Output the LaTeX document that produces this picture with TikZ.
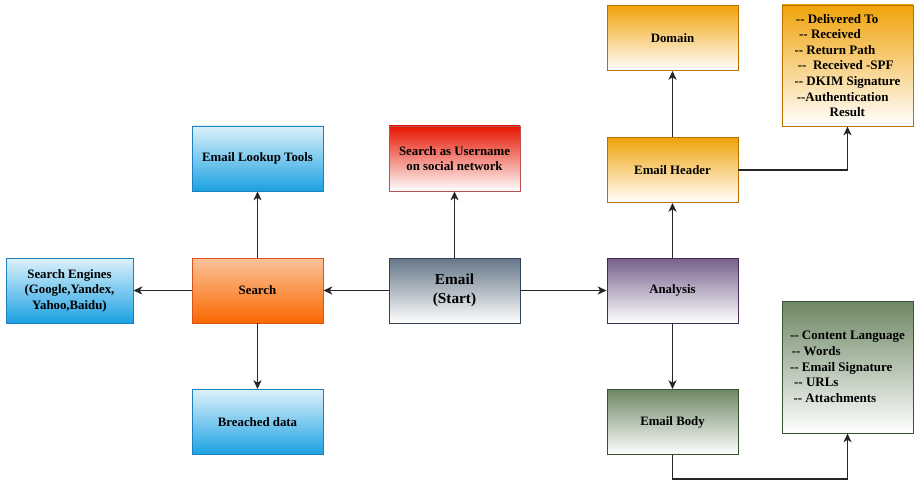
\documentclass[tikz,border=0pt]{standalone}
\usepackage{fontspec}
\setmainfont{Liberation Serif}
\usetikzlibrary{arrows.meta,positioning}
\definecolor{bluefill}{HTML}{1BA1E2}
\definecolor{bluedraw}{HTML}{1C7FC0}
\definecolor{orangefill}{HTML}{FA6800}
\definecolor{orangetop}{HTML}{FBC29A}
\definecolor{orangedraw}{HTML}{D9541A}
\definecolor{redfill}{HTML}{E51400}
\definecolor{reddraw}{HTML}{B85450}
\definecolor{slatefill}{HTML}{647687}
\definecolor{slatedraw}{HTML}{314354}
\definecolor{purplefill}{HTML}{76608A}
\definecolor{purpledraw}{HTML}{432D57}
\definecolor{amberfill}{HTML}{F0A30A}
\definecolor{amberdraw}{HTML}{BD7000}
\definecolor{greenfill}{HTML}{6D8764}
\definecolor{greendraw}{HTML}{3A5431}

\begin{document}
\begin{tikzpicture}[auto,
    main node/.style={rectangle,draw,line width=0.55pt,minimum width=2.62cm,minimum height=1.3cm,
                      align=center,inner sep=2pt,font=\bfseries\fontsize{7.3}{8.8}\selectfont},
    blue node/.style={main node,draw=bluedraw,top color=white!85!bluefill,bottom color=bluefill},
    search node/.style={main node,draw=orangedraw,top color=orangetop,bottom color=orangefill},
    red node/.style={main node,draw=reddraw,top color=redfill,bottom color=white},
    start node/.style={main node,draw=slatedraw,top color=slatefill,bottom color=white,
                       font=\bfseries\fontsize{8.7}{10.8}\selectfont},
    purple node/.style={main node,draw=purpledraw,top color=purplefill,bottom color=white},
    amber node/.style={main node,draw=amberdraw,top color=amberfill,bottom color=white},
    green node/.style={main node,draw=greendraw,top color=greenfill,bottom color=white},
    list node/.style={font=\bfseries\fontsize{7.4}{8.9}\selectfont,align=left},
    link/.style={-{Stealth[length=5pt,width=4.6pt,inset=1.4pt]},line width=0.7pt,draw=black!85}]

\useasboundingbox (0,0) rectangle (18.28,-9.82);

\node[start node] (Email) at (9.09,-5.81) {Email\\(Start)};
\node[search node] (Search) at (5.15,-5.81) {Search};
\node[blue node,minimum width=2.54cm] (Engines) at (1.39,-5.81) {Search Engines\\(Google,Yandex,\\Yahoo,Baidu)};
\node[blue node] (Lookup) at (5.15,-3.17) {Email Lookup Tools};
\node[blue node] (Breached) at (5.15,-8.44) {Breached data};
\node[red node] (Username) at (9.09,-3.17) {Search as Username\\on social network};
\node[purple node] (Analysis) at (13.45,-5.81) {Analysis};
\node[amber node] (Header) at (13.45,-3.40) {Email Header};
\node[amber node] (Domain) at (13.45,-0.76) {Domain};
\node[green node] (Body) at (13.45,-8.44) {Email Body};

\node[amber node,minimum height=2.42cm] (HeaderList) at (16.95,-1.31) {};
\node[list node] (HeaderText) at (HeaderList) {\hspace*{0.8pt}-{}- Delivered To\\
  \hspace*{2.6pt}-{}- Received\\
  -{}- Return Path\\
  \hspace*{1.9pt}-{}-\ \ Received -SPF\\
  -{}- DKIM Signature\\
  \hspace*{1.3pt}-{}-Authentication\\
  \hspace*{20pt}Result};

\node[green node,minimum height=2.64cm] (BodyList) at (16.95,-7.34) {};
\node[list node] (BodyText) at (BodyList) {-{}- Content Language\\
  \hspace*{1pt}-{}- Words\\
  -{}- Email Signature\\
  \hspace*{2.3pt}-{}- URLs\\
  \hspace*{2pt}-{}- Attachments};

\draw[link] (Email) -- (Search);
\draw[link] (Search) -- (Engines);
\draw[link] (Search) -- (Lookup);
\draw[link] (Search) -- (Breached);
\draw[link] (Email) -- (Username);
\draw[link] (Email) -- (Analysis);
\draw[link] (Analysis) -- (Header);
\draw[link] (Header) -- (Domain);
\draw[link] (Analysis) -- (Body);
\draw[link] (Header.east) -| (HeaderList.south);
\coordinate (BodyTurn) at ([yshift=-0.48cm]Body.south);
\draw[link] (Body.south) -- (BodyTurn) -| (BodyList.south);

\end{tikzpicture}
\end{document}
